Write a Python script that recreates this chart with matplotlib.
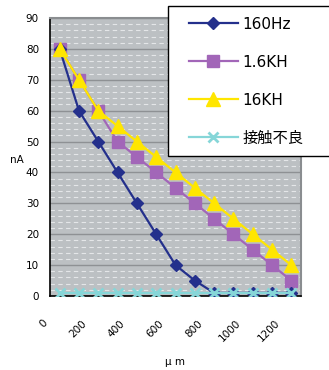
import matplotlib
matplotlib.use("Agg")
import matplotlib.pyplot as plt
import matplotlib.transforms as mtransforms
from matplotlib.ticker import MultipleLocator
from matplotlib.lines import Line2D
from matplotlib.legend_handler import HandlerLine2D

plt.rcParams['font.family'] = ['DejaVu Sans', 'Noto Sans CJK JP']

x_um = [0, 100, 200, 300, 400, 500, 600, 700, 800, 900, 1000, 1100, 1200]
s160hz = [80, 60, 50, 40, 30, 20, 10, 5, 1, 1, 1, 1, 1]
s16kh_a = [80, 70, 60, 50, 45, 40, 35, 30, 25, 20, 15, 10, 5]
s16kh = [80, 70, 60, 55, 50, 45, 40, 35, 30, 25, 20, 15, 10]
s_bad = [1, 1, 1, 1, 1, 1, 1, 1, 1, 1, 1, 1, 1]
labels = ['160Hz', '1.6KH', '16KH', '接触不良']
xticks = [0, 200, 400, 600, 800, 1000, 1200]
yticks = [0, 10, 20, 30, 40, 50, 60, 70, 80, 90]

fig = plt.figure(figsize=(3.29, 3.70), dpi=100)
ax = fig.add_axes([50/329, 1-296/370, 251/329, 278/370])
ax.set_facecolor('#bcc0c3')

ax.plot(x_um, s160hz, color='#24308c', marker='D', ms=6.5, lw=1.6, label=labels[0], zorder=4)
ax.plot(x_um, s16kh_a, color='#a266b8', marker='s', ms=9, lw=1.6, label=labels[1], zorder=3)
ax.plot(x_um, s16kh, color='#ffe600', marker='^', ms=10, lw=1.6, label=labels[2], zorder=5)
ax.plot(x_um, s_bad, color='#86d6d8', marker='x', ms=7, mew=2, lw=1.6, label=labels[3], zorder=6)

ax.set_xlim(-50, 1250)
ax.set_ylim(0, 90)
ax.set_yticks(yticks)
ax.set_xticks(xticks)
ax.yaxis.set_minor_locator(MultipleLocator(2))
ax.grid(which='major', axis='y', color='#8e9194', lw=1.0, ls='-', zorder=0)
ax.grid(which='minor', axis='y', color='#e4e6e8', lw=0.8, ls=(0, (4, 3)), zorder=0)
ax.set_axisbelow(True)

for sp in ['top', 'right']:
    ax.spines[sp].set_color('#8a8d90')
    ax.spines[sp].set_linewidth(1.5)
ax.spines['left'].set_color('black')
ax.spines['bottom'].set_color('black')
ax.spines['left'].set_linewidth(1.2)
ax.spines['bottom'].set_linewidth(1.2)

ax.tick_params(axis='y', length=0, labelsize=7.5, pad=8)
ax.tick_params(axis='x', length=0, labelsize=7.5, pad=16)
ax.tick_params(which='minor', length=0)
ax.set_xticklabels([str(v) for v in xticks], rotation=45, ha='right', va='top')
offset = mtransforms.ScaledTranslation(-10/100, 0, fig.dpi_scale_trans)
for lab in ax.get_xticklabels():
    lab.set_transform(lab.get_transform() + offset)

fig.text(17/329, 1-160/370, 'nA', fontsize=7.5, ha='center', va='center')
fig.text(175/329, 1-362/370, 'μ m', fontsize=7.5, ha='center', va='center')

leg = fig.legend(loc='upper left', bbox_to_anchor=(168/329, 1-6/370, 0.6, 0.0),
                 mode='expand', fontsize=11, frameon=True, fancybox=False,
                 edgecolor='black', framealpha=1, borderaxespad=0,
                 handlelength=3.85, handletextpad=0.33, labelspacing=1.5,
                 borderpad=0.7,
                 handler_map={Line2D: HandlerLine2D(xpad=0.65)})
leg.get_frame().set_linewidth(1.0)
for t in leg.get_texts():
    t.set_family(['DejaVu Sans', 'Noto Sans CJK JP'])

fig.savefig('out.png', dpi=100)
